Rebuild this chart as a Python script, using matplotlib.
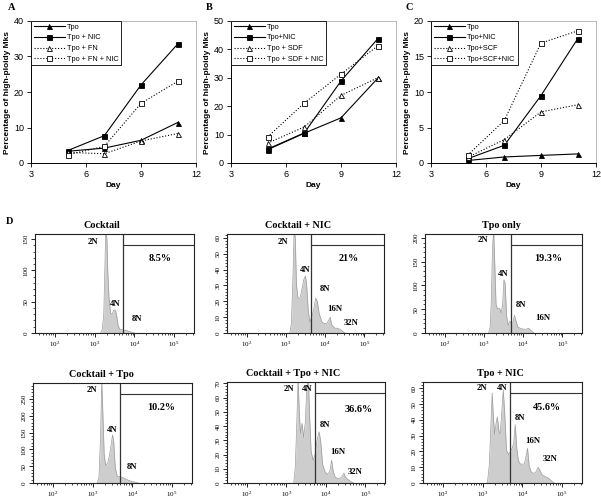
#!/usr/bin/env python3
"""Ploidy time-course (A-C) and DNA-content flow histograms (D)."""
import numpy as np
import matplotlib.pyplot as plt
from matplotlib.ticker import AutoMinorLocator, LogLocator, NullFormatter

plt.rcParams["font.family"] = ["Liberation Sans", "DejaVu Sans"]
plt.rcParams["axes.unicode_minus"] = False
plt.rcParams["mathtext.fontset"] = "stix"

SERIF = ["Liberation Serif", "DejaVu Serif"]

# ---- panels A-C: % high-ploidy Mks vs day ----
days = [5, 7, 9, 11]

a_tpo = [3.3, 4.2, 6.4, 11.4]
a_tpo_nic = [3.5, 7.7, 22.0, 33.5]
a_tpo_fn = [3.0, 2.6, 6.2, 8.3]
a_tpo_fn_nic = [2.3, 4.7, 16.8, 23.0]
a_labels = ["Tpo", "Tpo + NIC", "Tpo + FN", "Tpo + FN + NIC"]

b_tpo = [4.7, 10.5, 15.9, 29.8]
b_tpo_nic = [4.9, 10.6, 28.9, 43.7]
b_tpo_sdf = [7.0, 12.7, 23.8, 30.0]
b_tpo_sdf_nic = [9.2, 21.1, 31.3, 41.2]
b_labels = ["Tpo", "Tpo+NIC", "Tpo + SDF", "Tpo + SDF + NIC"]

c_tpo = [0.35, 0.85, 1.07, 1.28]
c_tpo_nic = [0.6, 2.5, 9.5, 17.5]
c_tpo_scf = [0.8, 3.3, 7.2, 8.2]
c_tpo_scf_nic = [1.1, 6.0, 16.9, 18.6]
c_labels = ["Tpo", "Tpo+NIC", "Tpo+SCF", "Tpo+SCF+NIC"]

# ---- panel D: flow histograms, outline points (log10 intensity, count) ----
cocktail_log = [3.15, 3.19, 3.23, 3.26, 3.28, 3.31, 3.33, 3.36, 3.40, 3.44,
                3.48, 3.52, 3.55, 3.59, 3.63, 3.70, 3.80, 3.90, 4.00]
cocktail_cnt = [0, 5, 30, 110, 165, 150, 100, 58, 32, 30, 36, 37, 30, 12, 6, 5, 4, 2, 0]

cocktail_nic_log = [3.10, 3.14, 3.18, 3.21, 3.24, 3.27, 3.31, 3.36, 3.41, 3.46,
                    3.50, 3.53, 3.57, 3.61, 3.66, 3.71, 3.76, 3.80, 3.85, 3.92,
                    3.98, 4.04, 4.09, 4.13, 4.17, 4.25, 4.32, 4.40, 4.50]
cocktail_nic_cnt = [0, 6, 35, 65, 60, 30, 22, 22, 28, 34, 36, 30, 14, 7, 10, 15,
                    22, 20, 12, 7, 6, 6, 8, 10, 5, 3, 3, 2, 0]

tpo_only_log = [3.12, 3.16, 3.19, 3.22, 3.25, 3.28, 3.31, 3.35, 3.40, 3.44,
                3.48, 3.51, 3.54, 3.58, 3.62, 3.66, 3.70, 3.74, 3.78, 3.82,
                3.87, 3.93, 4.00, 4.08, 4.14, 4.20, 4.28]
tpo_only_cnt = [0, 12, 70, 180, 215, 140, 60, 50, 52, 42, 62, 112, 105, 35, 16,
                25, 20, 22, 37, 25, 12, 10, 8, 8, 10, 5, 0]

cocktail_tpo_log = [3.12, 3.16, 3.20, 3.23, 3.26, 3.29, 3.33, 3.38, 3.42, 3.46,
                    3.50, 3.53, 3.57, 3.62, 3.70, 3.78, 3.86, 3.95, 4.05, 4.15]
cocktail_tpo_cnt = [0, 18, 140, 305, 200, 85, 52, 60, 80, 110, 143, 125, 45, 20,
                    18, 15, 10, 6, 3, 0]

cocktail_tpo_nic_log = [3.19, 3.23, 3.27, 3.30, 3.33, 3.36, 3.40, 3.44, 3.48, 3.52,
                        3.56, 3.59, 3.63, 3.68, 3.73, 3.78, 3.83, 3.87, 3.92, 3.98,
                        4.04, 4.10, 4.15, 4.19, 4.24, 4.32, 4.40, 4.46, 4.50, 4.58,
                        4.70]
cocktail_tpo_nic_cnt = [0, 12, 45, 74, 50, 35, 42, 32, 42, 66, 74, 48, 22, 16, 20,
                        30, 36, 30, 13, 8, 6, 8, 16, 8, 4, 3, 4, 7, 4, 2, 0]

tpo_nic_log = [3.12, 3.17, 3.21, 3.24, 3.27, 3.30, 3.34, 3.37, 3.41, 3.44, 3.48,
               3.52, 3.56, 3.60, 3.65, 3.70, 3.74, 3.78, 3.82, 3.86, 3.90, 3.95,
               4.00, 4.05, 4.10, 4.13, 4.17, 4.22, 4.28, 4.34, 4.40, 4.44, 4.50,
               4.58, 4.66, 4.75, 4.80]
tpo_nic_cnt = [0, 12, 38, 57, 42, 31, 38, 42, 33, 31, 44, 59, 42, 21, 18, 20, 22,
               25, 37, 22, 14, 12, 12, 12, 18, 22, 11, 7, 6, 7, 10, 8, 5, 4, 3, 1, 0]

flow_titles = ["Cocktail", "Cocktail + NIC", "Tpo only",
               "Cocktail + Tpo", "Cocktail + Tpo + NIC", "Tpo + NIC"]
flow_pct = ["8.5%", "21%", "19.3%", "10.2%", "36.6%", "45.6%"]
flow_gate_log = [3.72, 3.65, 3.68, 3.70, 3.72, 3.68]
flow_ymax = [158, 62.5, 208, 298, 71, 64]
flow_ystep = [50, 10, 50, 50, 10, 10]

# peak labels: (text, log10 x, count)
flow_peaks = [
    [("2N", 2.97, 146), ("4N", 3.52, 46), ("8N", 4.06, 23)],
    [("2N", 2.93, 57.5), ("4N", 3.48, 39.6), ("8N", 3.99, 28), ("16N", 4.25, 15),
     ("32N", 4.67, 6.3)],
    [("2N", 2.99, 196), ("4N", 3.48, 124), ("8N", 3.95, 59), ("16N", 4.50, 32)],
    [("2N", 2.98, 278), ("4N", 3.48, 158), ("8N", 3.98, 48)],
    [("2N", 3.06, 66), ("4N", 3.54, 66), ("8N", 3.99, 40.7), ("16N", 4.31, 21.7),
     ("32N", 4.75, 7.9)],
    [("2N", 2.99, 60.4), ("4N", 3.50, 60.4), ("8N", 3.95, 40.9), ("16N", 4.25, 26.7),
     ("32N", 4.71, 15.2)],
]
flow_pct_pos = [(4.64, 119), (4.61, 47), (4.65, 156), (4.73, 226), (4.84, 52), (4.63, 48)]


def line_panel(fig, rect, series, labels, ymax, ystep):
    ax = fig.add_axes(rect)
    styles = [("-", "^", "black"), ("-", "s", "black"),
              (":", "^", "white"), (":", "s", "white")]
    for vals, lab, (ls, mk, fc) in zip(series, labels, styles):
        ax.plot(days, vals, linestyle=ls, marker=mk, color="black", mfc=fc,
                mec="black", ms=3.6, mew=0.6, lw=0.8, label=lab)
    ax.set_xlim(3, 12)
    ax.set_xticks([3, 6, 9, 12])
    ax.set_ylim(0, ymax)
    ax.set_yticks(np.arange(0, ymax + 1, ystep))
    for s in ("top", "right"):
        ax.spines[s].set_color("#b0b0b0")
        ax.spines[s].set_linewidth(0.6)
    for s in ("left", "bottom"):
        ax.spines[s].set_linewidth(0.7)
    ax.tick_params(labelsize=6.5, length=3, width=0.6, pad=2)
    ax.set_xlabel("Day", fontsize=6, fontweight="bold", labelpad=2)
    ax.set_ylabel("Percentage of high-ploidy Mks", fontsize=6, fontweight="bold",
                  labelpad=2)
    leg = ax.legend(loc="upper left", borderaxespad=0, fancybox=False,
                    edgecolor="black", framealpha=1, fontsize=5.3,
                    handlelength=4.3, handletextpad=0.2, labelspacing=0.48,
                    borderpad=0.35)
    leg.get_frame().set_linewidth(0.6)
    return ax


def flow_panel(fig, rect, i, logx, counts, title_x):
    ax = fig.add_axes(rect)
    x = 10 ** np.asarray(logx)
    ax.fill_between(x, counts, color="#cdcdcd", lw=0)
    ax.plot(x, counts, color="#9c9c9c", lw=0.5)
    ax.set_xscale("log")
    ax.set_xlim(10 ** 1.5, 10 ** 5.5)
    ax.set_ylim(0, flow_ymax[i])
    ax.set_xticks([1e2, 1e3, 1e4, 1e5])
    ax.xaxis.set_minor_locator(LogLocator(base=10, subs=np.arange(2, 10)))
    ax.xaxis.set_minor_formatter(NullFormatter())
    ax.set_yticks(np.arange(0, flow_ymax[i], flow_ystep[i]))
    ax.yaxis.set_minor_locator(AutoMinorLocator(5))
    ax.tick_params(which="major", length=3, width=0.6, labelsize=5, pad=1.5)
    ax.tick_params(which="minor", length=1.6, width=0.5)
    for lab in ax.get_yticklabels():
        lab.set_rotation(90)
        lab.set_va("center")
        lab.set_family(SERIF)
    for lab in ax.get_xticklabels():
        lab.set_family(SERIF)
    for s in ax.spines.values():
        s.set_linewidth(0.8)
        s.set_color("#222222")

    g = 10 ** flow_gate_log[i]
    ax.axvline(g, color="#333333", lw=0.9)
    gx = (flow_gate_log[i] - 1.5) / 4.0
    ax.plot([gx, 1], [0.888, 0.888], transform=ax.transAxes, color="#333333", lw=0.8)

    for txt, lx, yy in flow_peaks[i]:
        ax.text(10 ** lx, yy, txt, ha="center", va="center", fontsize=6.3,
                fontweight="bold", family=SERIF)
    px, py = flow_pct_pos[i]
    ax.text(10 ** px, py, flow_pct[i], ha="center", va="center", fontsize=7.3,
            fontweight="bold", family=SERIF)
    ax.set_title(flow_titles[i], fontsize=7.3, fontweight="bold", family=SERIF,
                 pad=4, x=title_x)
    return ax


def main() -> None:
    fig = plt.figure(figsize=(6.01, 5.03), dpi=100)
    W, H = 601.0, 503.0

    def rect(l, t, r, b):
        return [l / W, 1 - b / H, (r - l) / W, (b - t) / H]

    line_panel(fig, rect(31, 21, 196, 163),
               [a_tpo, a_tpo_nic, a_tpo_fn, a_tpo_fn_nic], a_labels, 40, 10)
    line_panel(fig, rect(231, 21, 396, 163),
               [b_tpo, b_tpo_nic, b_tpo_sdf, b_tpo_sdf_nic], b_labels, 50, 10)
    line_panel(fig, rect(431, 21, 596, 163),
               [c_tpo, c_tpo_nic, c_tpo_scf, c_tpo_scf_nic], c_labels, 20, 5)

    flows = [(cocktail_log, cocktail_cnt), (cocktail_nic_log, cocktail_nic_cnt),
             (tpo_only_log, tpo_only_cnt), (cocktail_tpo_log, cocktail_tpo_cnt),
             (cocktail_tpo_nic_log, cocktail_tpo_nic_cnt), (tpo_nic_log, tpo_nic_cnt)]
    boxes = [(35, 234, 194, 333), (227, 234, 384, 333), (425, 234, 582, 333),
             (33, 383, 192, 483), (227, 382, 385, 483), (423, 382, 582, 483)]
    title_xs = [0.42, 0.45, 0.49, 0.43, 0.42, 0.49]
    for i, ((lx, cnt), b) in enumerate(zip(flows, boxes)):
        flow_panel(fig, rect(*b), i, lx, cnt, title_xs[i])

    for letter, (x, y) in zip("ABCD", [(12, 8), (209, 8), (409, 8), (10, 222)]):
        fig.text(x / W, 1 - y / H, letter, ha="center", va="center", fontsize=7.5,
                 fontweight="bold", family=SERIF)

    fig.savefig("out.png", dpi=100, facecolor="white")
    plt.close(fig)


if __name__ == "__main__":
    main()
